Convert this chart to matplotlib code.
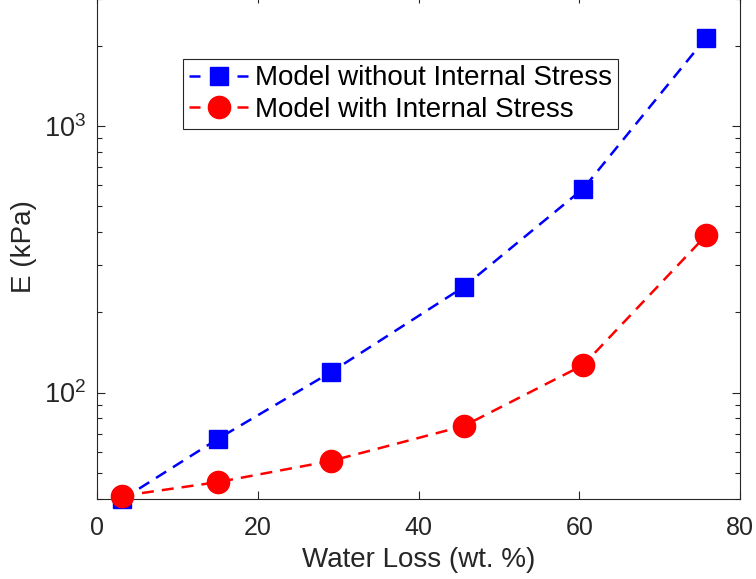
import matplotlib
matplotlib.use("Agg")
import matplotlib.pyplot as plt
from matplotlib.ticker import FixedLocator, LogLocator, NullFormatter

plt.rcParams['font.family'] = ['Liberation Sans', 'DejaVu Sans']
plt.rcParams['mathtext.fontset'] = 'custom'
plt.rcParams['mathtext.rm'] = 'Liberation Sans'

# data
water_loss = [3.1, 15.05, 29.05, 45.6, 60.5, 75.8]
e_no_stress = [39.8, 67.2, 119.1, 248.8, 581.7, 2141]
e_stress = [41.0, 46.2, 55.4, 74.9, 126.9, 388.8]
x_ticks = [0, 20, 40, 60, 80]

axcol = '#262626'

fig = plt.figure(figsize=(7.56, 5.79), dpi=100)
ax = fig.add_axes([0.1287, 0.1376, 0.8501, 0.8715])

ax.plot(water_loss, e_no_stress, color='blue', ls='--', dashes=(4.8, 3.2), lw=1.8,
        marker='s', ms=13, label='Model without Internal Stress', clip_on=False, zorder=3)
ax.plot(water_loss, e_stress, color='red', ls='--', dashes=(4.8, 3.2), lw=1.8,
        marker='o', ms=16, label='Model with Internal Stress', clip_on=False, zorder=4)

ax.set_yscale('log')
ax.set_xlim(0, 80)
ax.set_ylim(39.8, 3100)
ax.xaxis.set_major_locator(FixedLocator(x_ticks))
ax.yaxis.set_major_locator(LogLocator(base=10))
ax.yaxis.set_minor_locator(LogLocator(base=10, subs=range(2, 10)))
ax.yaxis.set_minor_formatter(NullFormatter())

for s in ax.spines.values():
    s.set_color(axcol)
    s.set_linewidth(0.8)
ax.tick_params(which='both', direction='in', top=True, right=True, color=axcol,
               labelcolor=axcol, labelsize=18, width=0.8)
ax.tick_params(which='major', length=6)
ax.tick_params(which='minor', length=3.5)
ax.tick_params(axis='x', which='major', pad=12)
ax.tick_params(axis='y', which='major', pad=8, labelsize=19.5)

ax.set_xlabel('Water Loss (wt. %)', fontsize=20, color=axcol, labelpad=5)
ax.set_ylabel('E (kPa)', fontsize=20, color=axcol, labelpad=5)

leg = ax.legend(loc='upper left', bbox_to_anchor=(0.2425, 0.8976),
                bbox_transform=fig.transFigure, borderaxespad=0, fontsize=20,
                handlelength=2.12, handletextpad=0.25, labelspacing=0.2,
                borderpad=0.22, fancybox=False, framealpha=1)
leg.get_frame().set_edgecolor(axcol)
leg.get_frame().set_linewidth(0.8)
for ln in leg.get_lines():
    ln.set_dashes((4.4, 5.2))

fig.savefig('out.png', dpi=100)
